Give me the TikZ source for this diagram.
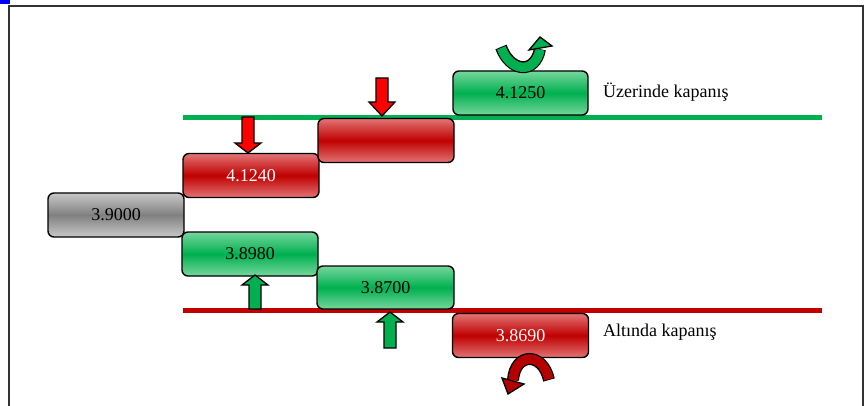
\documentclass[tikz,border=0pt]{standalone}
\usepackage{fontspec}
\setmainfont{Liberation Serif}
\definecolor{gtop}{RGB}{118,214,156}
\definecolor{gmid}{RGB}{0,176,80}
\definecolor{rtop}{RGB}{226,116,116}
\definecolor{rmid}{RGB}{192,0,0}
\definecolor{ktop}{RGB}{200,200,200}
\definecolor{kmid}{RGB}{128,128,128}
\definecolor{arrred}{RGB}{255,0,0}
\definecolor{curvred}{RGB}{180,0,0}
\begin{document}
\begin{tikzpicture}[x=1pt,y=-1pt,
  candle/.style={draw=black,line width=1.4pt,rounded corners=6pt,inner sep=0pt,
    minimum height=44pt,font=\fontsize{18}{20}\selectfont},
  greenbox/.style={candle,top color=gtop,bottom color=gtop,middle color=gmid,text=black},
  redbox/.style={candle,top color=rtop,bottom color=rtop,middle color=rmid,text=white},
  graybox/.style={candle,top color=ktop,bottom color=ktop,middle color=kmid,text=black},
  lbl/.style={anchor=west,inner sep=0pt,font=\fontsize{18}{20}\selectfont},
  arr/.style={draw=black,line width=1.3pt,line join=miter}]
\useasboundingbox (0,0) rectangle (864,406);
% frame
\fill[blue] (0,0) rectangle (10,4);
\draw[black!80,line width=1.2pt] (9,406) -- (9,6) -- (863,6) -- (863,406);
% level lines
\draw[gmid,line width=5pt] (183,118) -- (822,118);
\draw[rmid,line width=5pt] (183,310) -- (822,310);
% candles
\node[graybox,minimum width=136pt] (c0) at (116,215) {3.9000};
\node[redbox,minimum width=136pt] (c1) at (251,175.5) {4.1240};
\node[redbox,minimum width=136pt] (c2) at (386,140.5) {};
\node[greenbox,minimum width=135pt] (c3) at (520.5,93) {4.1250};
\node[greenbox,minimum width=136pt] (c4) at (250,254) {3.8980};
\node[greenbox,minimum width=137pt,minimum height=43pt] (c5) at (385.5,287.5) {3.8700};
\node[redbox,minimum width=136pt] (c6) at (520.5,335.5) {3.8690};
% labels
\node[lbl] (t1) at (603,92) {Üzerinde kapanış};
\node[lbl] (t2) at (603,332) {Altında kapanış};
% straight arrows
\draw[arr,fill=arrred] (242,117) -- (254,117) -- (254,143) -- (261,143) -- (248,153) -- (235,143) -- (242,143) -- cycle;
\draw[arr,fill=arrred] (376,78) -- (388,78) -- (388,102) -- (395,102) -- (382,116) -- (369,102) -- (376,102) -- cycle;
\draw[arr,fill=gmid] (249,309) -- (261,309) -- (261,285) -- (268,285) -- (255,275) -- (242,285) -- (249,285) -- cycle;
\draw[arr,fill=gmid] (384,348) -- (396,348) -- (396,322) -- (403,322) -- (390,312) -- (377,322) -- (384,322) -- cycle;
% curved arrows
\draw[black,line width=12pt] (501,47) .. controls (510,72) and (535,75) .. (540,49);
\draw[gmid,line width=9.4pt] (501.3,47.9) .. controls (510,72) and (535,75) .. (540,49.5);
\draw[arr,fill=gmid] (529,50) -- (540,37) -- (552,46) -- cycle;
\draw[black,line width=12pt] (549,380) .. controls (543,352) and (515,352) .. (513,380);
\draw[curvred,line width=9.4pt] (548.8,379.2) .. controls (543,352) and (515,352) .. (513,380.5);
\draw[arr,fill=curvred] (502,378) -- (524,384) -- (508,394) -- cycle;
\end{tikzpicture}
\end{document}
